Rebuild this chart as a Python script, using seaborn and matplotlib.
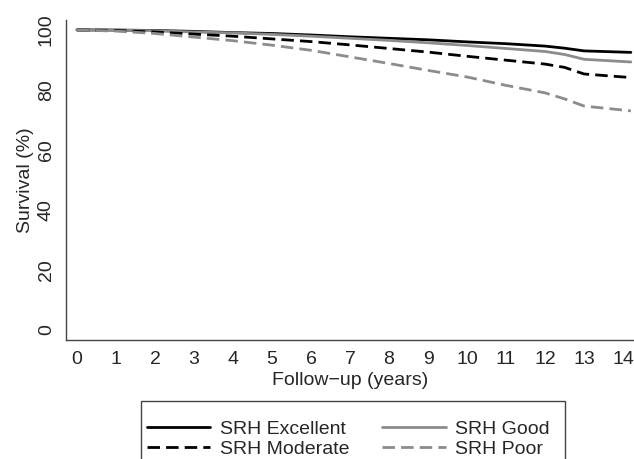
import matplotlib
matplotlib.use("Agg")
import matplotlib.pyplot as plt
from matplotlib.patches import Rectangle
import seaborn as sns
import pandas as pd

# survival estimates
years = [0, 1, 2, 3, 4, 5, 6, 7, 8, 9, 10, 11, 12, 12.5, 13, 14.2]
excellent = [100, 99.95, 99.8, 99.5, 99.1, 98.8, 98.3, 97.7, 97.2, 96.7, 96.0, 95.4, 94.6, 93.9, 93.0, 92.5]
good = [100, 99.9, 99.7, 99.3, 99.0, 98.5, 97.9, 97.2, 96.5, 95.7, 94.8, 93.8, 92.8, 91.8, 90.2, 89.3]
moderate = [100, 99.8, 99.3, 98.6, 97.9, 97.0, 96.1, 95.0, 93.8, 92.6, 91.2, 89.9, 88.6, 87.5, 85.3, 84.1]
poor = [100, 99.6, 98.8, 97.6, 96.4, 94.9, 93.2, 91.0, 88.8, 86.5, 84.3, 81.5, 79.0, 77.0, 74.6, 73.0]

groups = ["SRH Excellent", "SRH Good", "SRH Moderate", "SRH Poor"]
x_ticks = list(range(0, 15))
y_ticks = [0, 20, 40, 60, 80, 100]

sns.set_style("white")
plt.rcParams["font.family"] = ["Liberation Sans", "DejaVu Sans"]

frames = []
for name, vals in zip(groups, [excellent, good, moderate, poor]):
    frames.append(pd.DataFrame({"year": years, "surv": vals, "group": name}))
df = pd.concat(frames, ignore_index=True)

colors = {"SRH Excellent": "black", "SRH Good": "#8c8c8c",
          "SRH Moderate": "black", "SRH Poor": "#8c8c8c"}
dashes = {"SRH Excellent": "", "SRH Good": "",
          "SRH Moderate": (4.5, 2.2), "SRH Poor": (4.5, 2.2)}

fig = plt.figure(figsize=(6.34, 4.59), dpi=100)
ax = fig.add_axes([66 / 634, 119 / 459, 568 / 634, 320 / 459])

sns.lineplot(data=df, x="year", y="surv", hue="group", style="group",
             palette=colors, dashes=dashes, linewidth=2, ax=ax, legend=False)

ax.set_xlim(-0.28, 14.28)
ax.set_ylim(-3.4, 103.3)
ax.set_xticks(x_ticks)
ax.set_yticks(y_ticks)
ax.set_xticklabels([str(t) for t in x_ticks], fontsize=14)
ax.set_yticklabels([str(t) for t in y_ticks], fontsize=14, rotation=90, va="center")
ax.set_xlabel("Follow\u2212up (years)", fontsize=14, labelpad=3)
ax.set_ylabel("Survival (%)", fontsize=14, labelpad=3)

for side in ["top", "right"]:
    ax.spines[side].set_visible(False)
for side in ["left", "bottom"]:
    ax.spines[side].set_color("#444444")
    ax.spines[side].set_linewidth(1)
ax.tick_params(axis="both", direction="out", length=5, width=1, color="#444444", pad=3)

# legend filled column by column, so order gives rows Excellent/Good, Moderate/Poor
order = ["SRH Excellent", "SRH Moderate", "SRH Good", "SRH Poor"]
handles = [plt.Line2D([], [], color=colors[g], linewidth=2,
                      linestyle="-" if dashes[g] == "" else (0, dashes[g])) for g in order]
fig.legend(handles, order, loc="upper left", bbox_to_anchor=(147 / 634, 1 - 420 / 459),
           ncol=2, fontsize=14, frameon=False, handlelength=3.25, handletextpad=0.5,
           columnspacing=1.7, borderpad=0, labelspacing=0.12, borderaxespad=0)

# legend box, running past the bottom edge as in the original
fig.add_artist(Rectangle((141 / 634, -0.1), (565 - 141) / 634, (459 - 401) / 459 + 0.1,
                         transform=fig.transFigure, fill=False,
                         edgecolor="#444444", linewidth=1))

fig.savefig("out.png", dpi=100)
